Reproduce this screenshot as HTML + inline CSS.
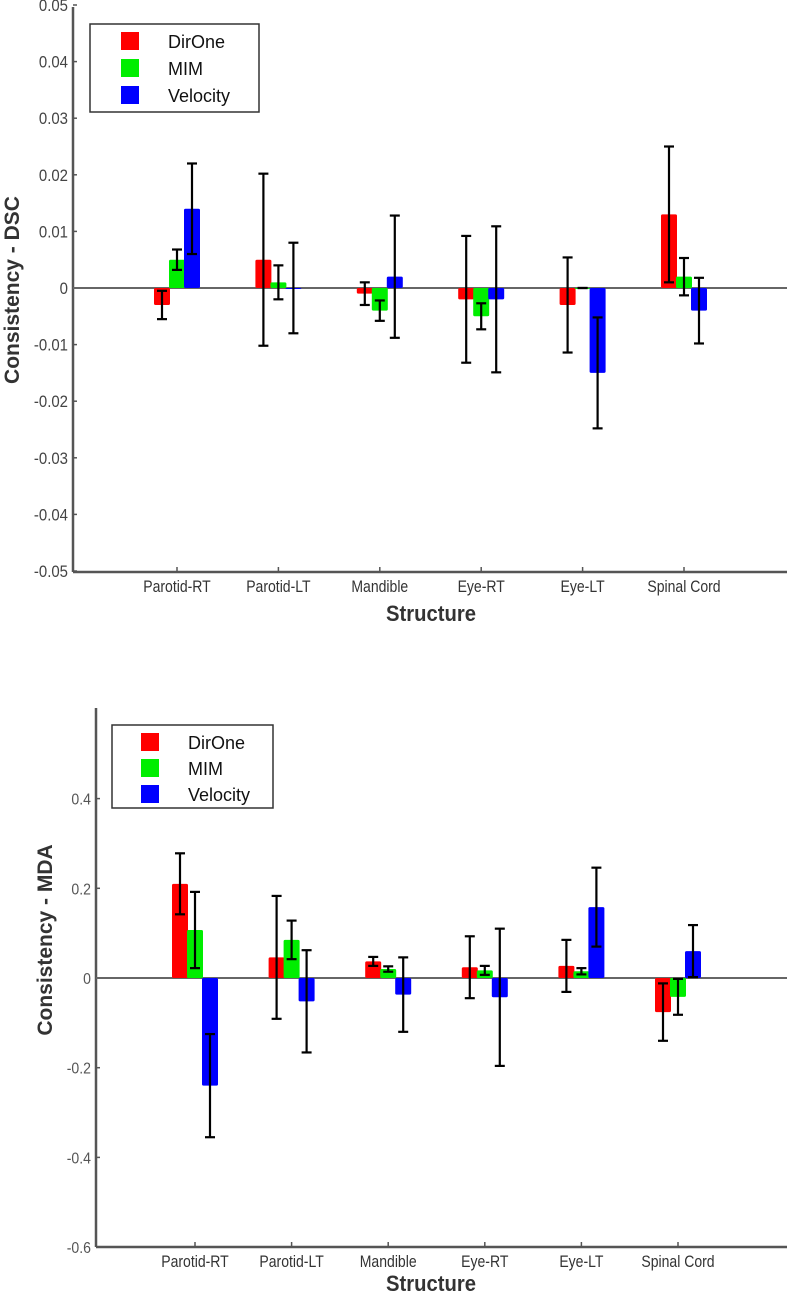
<!DOCTYPE html>
<html><head><meta charset="utf-8">
<style>
html,body{margin:0;padding:0;background:#fff;}
svg{display:block;font-family:"Liberation Sans",sans-serif;}
</style></head>
<body>
<svg id="fig" width="787" height="1295" viewBox="0 0 787 1295"></svg>
<script>
const categories = ["Parotid-RT","Parotid-LT","Mandible","Eye-RT","Eye-LT","Spinal Cord"];
const seriesNames = ["DirOne","MIM","Velocity"];
const dscDirOne = [-0.003, 0.005, -0.001, -0.002, -0.003, 0.013];
const dscMIM = [0.005, 0.001, -0.004, -0.005, 0.0, 0.002];
const dscVelocity = [0.014, 0.0, 0.002, -0.002, -0.015, -0.004];
const dscErrDirOne = [0.0025, 0.0152, 0.002, 0.0112, 0.0084, 0.012];
const dscErrMIM = [0.0018, 0.003, 0.0018, 0.0023, 0.0, 0.0033];
const dscErrVelocity = [0.008, 0.008, 0.0108, 0.0129, 0.0098, 0.0058];
const dscTicks = [0.05,0.04,0.03,0.02,0.01,0,-0.01,-0.02,-0.03,-0.04,-0.05];
const dscTickLabels = ["0.05","0.04","0.03","0.02","0.01","0","-0.01","-0.02","-0.03","-0.04","-0.05"];
const mdaDirOne = [0.21, 0.046, 0.037, 0.024, 0.027, -0.076];
const mdaMIM = [0.107, 0.085, 0.02, 0.017, 0.015, -0.042];
const mdaVelocity = [-0.24, -0.052, -0.037, -0.043, 0.158, 0.06];
const mdaErrDirOne = [0.068, 0.137, 0.01, 0.069, 0.058, 0.064];
const mdaErrMIM = [0.085, 0.043, 0.006, 0.01, 0.007, 0.04];
const mdaErrVelocity = [0.115, 0.114, 0.083, 0.153, 0.088, 0.058];
const mdaTicks = [0.4,0.2,0,-0.2,-0.4,-0.6];
const mdaTickLabels = ["0.4","0.2","0","-0.2","-0.4","-0.6"];

const NS="http://www.w3.org/2000/svg";
const svg=document.getElementById('fig');
const colors=["#ff0000","#00ee00","#0000ff"];
function mk(tag,attrs,parent){const e=document.createElementNS(NS,tag);for(const k in attrs)e.setAttribute(k,attrs[k]);(parent||svg).appendChild(e);return e;}

function drawChart(cfg){
  const g=mk('g',{});
  
  
  const y=v=>cfg.y0-v*cfg.scale;
  const x=i=>cfg.x0+i*cfg.dx;
  const ya=mk('line',{x1:cfg.ax,y1:cfg.top,x2:cfg.ax,y2:cfg.bottom,stroke:"#555",'stroke-width':2.5},g);
  
  
  const xa=mk('line',{x1:cfg.ax,y1:cfg.bottom,x2:787,y2:cfg.bottom,stroke:"#555",'stroke-width':2.5},g);
  
  
  cfg.ticks.forEach((t,i)=>{
    mk('line',{x1:cfg.ax,y1:y(t),x2:cfg.ax+4,y2:y(t),stroke:"#555",'stroke-width':1.5},g);
    const lx=cfg.ax-5;
    const tl=mk('text',{x:lx,y:y(t)+6,'text-anchor':'end','font-size':cfg.tickFont,fill:cfg.tickColor,transform:`translate(${lx},0) scale(0.88,1) translate(${-lx},0)`},g);
    tl.textContent=cfg.tickLabels[i];
    
    
  });
  const zl=mk('line',{x1:cfg.ax,y1:y(0),x2:787,y2:y(0),stroke:"#666",'stroke-width':2},g);
  
  
  categories.forEach((c,i)=>{
    mk('line',{x1:x(i),y1:cfg.bottom,x2:x(i),y2:cfg.bottom-5,stroke:"#555",'stroke-width':1.5},g);
    const t=mk('text',{x:x(i),y:cfg.bottom+20,'text-anchor':'middle','font-size':16.5,fill:"#333",transform:`translate(${x(i)},0) scale(0.85,1) translate(${-x(i)},0)`},g);
    t.textContent=c;
    
    
  });
  cfg.vals.forEach((vals,s)=>{
    vals.forEach((v,i)=>{
      const cx=x(i)+(s-1)*cfg.off;
      const top=Math.min(y(v),y(0)), h=Math.max(Math.abs(y(v)-y(0)),1);
      const r=mk('rect',{x:cx-8,y:top,width:16,height:h,fill:colors[s],rx:1.5},g);
      
      
    });
  });
  cfg.vals.forEach((vals,s)=>{
    vals.forEach((v,i)=>{
      const cx=x(i)+(s-1)*cfg.off, e=cfg.errs[s][i];
      const eg=mk('g',{stroke:"#000",'stroke-width':2.2},g);
      
      
      mk('line',{x1:cx,y1:y(v+e),x2:cx,y2:y(v-e)},eg);
      mk('line',{x1:cx-5,y1:y(v+e),x2:cx+5,y2:y(v+e)},eg);
      mk('line',{x1:cx-5,y1:y(v-e),x2:cx+5,y2:y(v-e)},eg);
    });
  });
  const xt=mk('text',{x:cfg.xtx,y:cfg.xty,'text-anchor':'middle','font-size':22,'font-weight':'bold',fill:"#333",transform:`translate(${cfg.xtx},0) scale(0.92,1) translate(${-cfg.xtx},0)`},g);
  xt.textContent="Structure";
  
  
  const yt=mk('text',{x:0,y:0,'text-anchor':'middle','font-size':21,'font-weight':'bold',fill:"#333",transform:`translate(${cfg.ytx},${cfg.yty}) rotate(-90)`},g);
  yt.textContent=cfg.ytitle;
  
  
  const lg=mk('g',{},g);
  
  
  const L=cfg.leg;
  mk('rect',{x:L.x,y:L.y,width:L.w,height:L.h,fill:"#fff",stroke:"#333",'stroke-width':1.5},lg);
  seriesNames.forEach((n,s)=>{
    const eg=mk('g',{},lg);
    
    
    mk('rect',{x:L.px,y:L.py+s*L.step,width:18,height:18,fill:colors[s]},eg);
    const t=mk('text',{x:L.tx,y:L.py+s*L.step+16,'font-size':18,fill:"#111"},eg);
    t.textContent=n;
  });
}
drawChart({name:'dsc-chart',ax:73,top:7,bottom:572,y0:288,scale:5660,x0:177,dx:101.4,off:15,
  ticks:dscTicks,tickLabels:dscTickLabels,tickFont:17,tickColor:"#444",
  vals:[dscDirOne,dscMIM,dscVelocity],errs:[dscErrDirOne,dscErrMIM,dscErrVelocity],
  xtx:431,xty:621,ytx:19,yty:290,ytitle:"Consistency - DSC",
  leg:{x:90,y:24,w:169,h:88,px:121,py:32,step:27,tx:168}});
drawChart({name:'mda-chart',ax:96,top:708,bottom:1247,y0:978,scale:448.5,x0:195,dx:96.6,off:15,
  ticks:mdaTicks,tickLabels:mdaTickLabels,tickFont:16,tickColor:"#555",
  vals:[mdaDirOne,mdaMIM,mdaVelocity],errs:[mdaErrDirOne,mdaErrMIM,mdaErrVelocity],
  xtx:431,xty:1291,ytx:52,yty:940,ytitle:"Consistency - MDA",
  leg:{x:112,y:725,w:161,h:83,px:141,py:733,step:26,tx:188}});
</script>
</body></html>
